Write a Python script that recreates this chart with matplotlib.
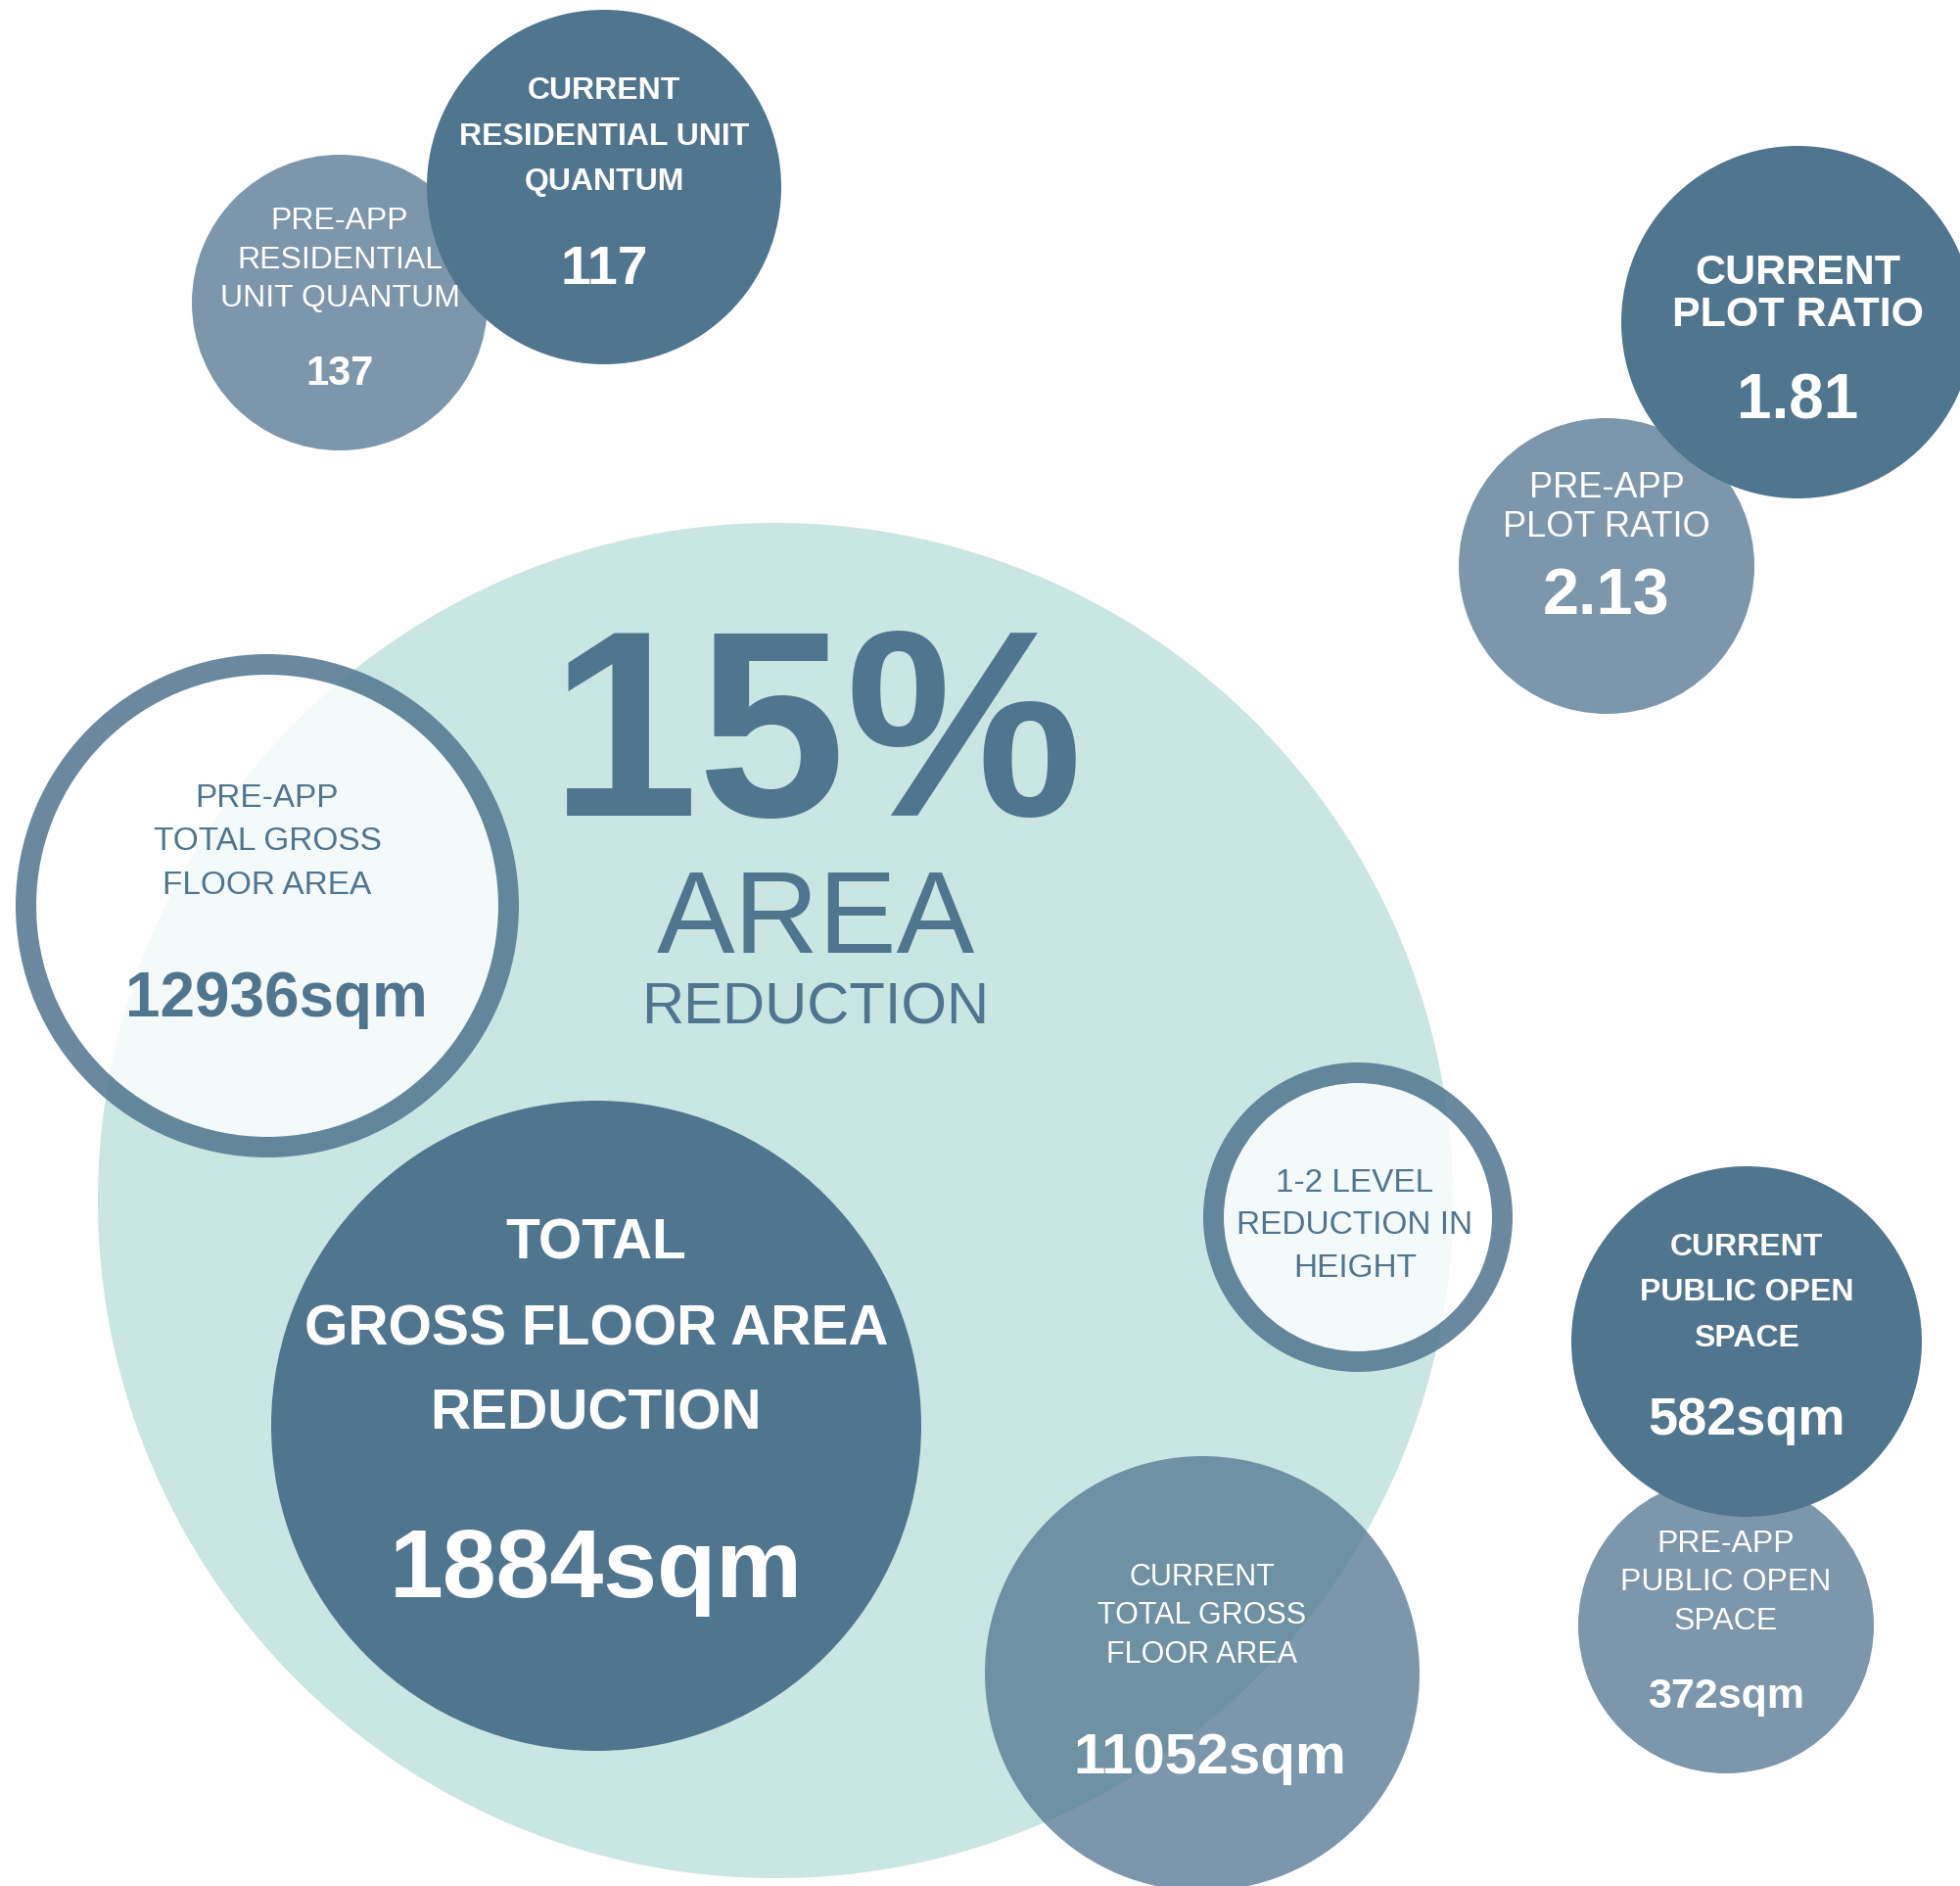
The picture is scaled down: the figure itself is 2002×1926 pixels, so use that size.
import matplotlib
matplotlib.use("Agg")
import matplotlib.pyplot as plt
from matplotlib.patches import Circle, Wedge

# ---------------- data ----------------
headline_pct = 15
headline_word = "AREA"
headline_sub = "REDUCTION"

metric_labels = [
    ["PRE-APP", "RESIDENTIAL", "UNIT QUANTUM"],
    ["CURRENT", "RESIDENTIAL UNIT", "QUANTUM"],
    ["CURRENT", "PLOT RATIO"],
    ["PRE-APP", "PLOT RATIO"],
    ["PRE-APP", "TOTAL GROSS", "FLOOR AREA"],
    ["TOTAL", "GROSS FLOOR AREA", "REDUCTION"],
    ["1-2 LEVEL", "REDUCTION IN", "HEIGHT"],
    ["CURRENT", "TOTAL GROSS", "FLOOR AREA"],
    ["PRE-APP", "PUBLIC OPEN", "SPACE"],
    ["CURRENT", "PUBLIC OPEN", "SPACE"],
]
metric_values = ["137", "117", "1.81", "2.13", "12936sqm", "1884sqm", "", "11052sqm", "372sqm", "582sqm"]

# ---------------- layout / style (pixel space) ----------------
W, H = 2002, 1926
DARK = "#50758F"
TEAL = "#CAE6E2"
FONT = "Liberation Sans"

# cx, cy, r, style, label_pt, first_baseline, line_gap, value_pt, value_baseline, text_x, value_x, zorder
layout = [
    (347, 309, 151, "mid", 23, 234, 39.5, 30, 393, 347, 347, 2),
    (617, 191, 181, "dark", 23, 101, 46.5, 40, 290, 617, 617, 3),
    (1836, 329, 180, "dark", 31, 290, 43, 46, 427, 1836, 1836, 3),
    (1641, 578, 151, "mid", 26, 508, 40, 48, 627, 1641, 1641, 2),
    (273, 925, 257, "ring", 24, 824, 44.5, 46, 1038, 273, 282, 2),
    (609, 1456, 332, "dark", 41, 1286, 87, 71, 1631, 609, 609, 2),
    (1387, 1243, 158, "ring", 24, 1217, 43.5, 0, 0, 1384, 1384, 2),
    (1228, 1709, 222, "mid", 22, 1619, 39.5, 42, 1811, 1228, 1236, 3),
    (1763, 1660, 151, "mid", 23, 1585, 39.5, 31, 1744, 1763, 1763, 2),
    (1784, 1370, 179, "dark", 23, 1282, 46.5, 39, 1465, 1784, 1784, 3),
]
RING_W = 21

fig = plt.figure(figsize=(W / 100, H / 100), dpi=100)
ax = fig.add_axes([0, 0, 1, 1])
ax.set_xlim(0, W)
ax.set_ylim(H, 0)
ax.axis("off")

# big background circle
ax.add_patch(Circle((792, 1226), 692, facecolor=TEAL, edgecolor="none", zorder=1))

# headline
ax.text(834, 833, f"{headline_pct}%", ha="center", va="baseline", fontsize=196,
        fontweight="bold", color=DARK, family=FONT, zorder=5)
ax.text(833, 973, headline_word, ha="center", va="baseline", fontsize=86,
        color=DARK, family=FONT, zorder=5)
ax.text(833, 1045, headline_sub, ha="center", va="baseline", fontsize=43,
        color=DARK, family=FONT, zorder=5)

for labels, value, lay in zip(metric_labels, metric_values, layout):
    cx, cy, r, style, lpt, b0, gap, vpt, vb, tx, vx, z = lay
    if style == "dark":
        ax.add_patch(Circle((cx, cy), r, facecolor=DARK, edgecolor="none", zorder=z))
        tcol, lweight = "white", "bold"
    elif style == "mid":
        ax.add_patch(Circle((cx, cy), r, facecolor=DARK, alpha=0.75, edgecolor="none", zorder=z))
        tcol, lweight = "white", "normal"
    else:
        ax.add_patch(Circle((cx, cy), r - RING_W, facecolor="white", alpha=0.8,
                            edgecolor="none", zorder=z))
        ax.add_patch(Wedge((cx, cy), r, 0, 360, width=RING_W, facecolor=DARK,
                           alpha=0.85, edgecolor="none", zorder=z))
        tcol, lweight = DARK, "normal"
    for i, line in enumerate(labels):
        ax.text(tx, b0 + i * gap, line, ha="center", va="baseline", fontsize=lpt,
                fontweight=lweight, color=tcol, family=FONT, zorder=z + 5)
    if value:
        ax.text(vx, vb, value, ha="center", va="baseline", fontsize=vpt,
                fontweight="bold", color=tcol, family=FONT, zorder=z + 5)

fig.savefig("out.png", dpi=100, facecolor="white")
